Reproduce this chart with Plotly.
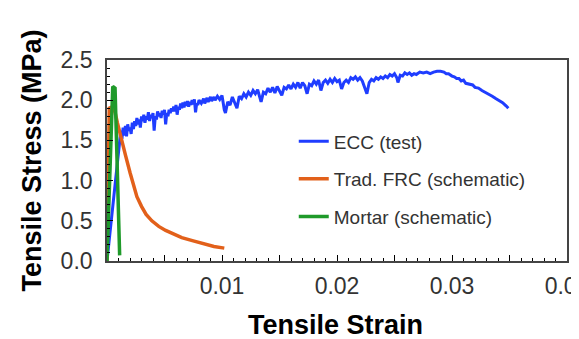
import plotly.graph_objects as go

# ECC (test) - tensile strain / stress
ecc_strain = [0, 0.0003, 0.0006, 0.0009,
              0.0012, 0.0013, 0.0014, 0.0015, 0.0016, 0.0017, 0.0018, 0.0019, 0.0020, 0.0021,
              0.0022, 0.0023, 0.0024, 0.0025, 0.0026, 0.0027, 0.0028, 0.0029, 0.0030, 0.0031,
              0.0032, 0.0033, 0.0034, 0.0035, 0.0036, 0.0037, 0.0038, 0.0039, 0.0040, 0.0041,
              0.0042, 0.0043, 0.0044, 0.0045, 0.0046, 0.0047, 0.0048, 0.0049, 0.0050, 0.0051,
              0.0052, 0.0053, 0.0054, 0.0055, 0.0056, 0.0057, 0.0058, 0.0059, 0.0060, 0.0061,
              0.0062, 0.0063, 0.0064, 0.0065, 0.0066, 0.0067, 0.0068, 0.0069, 0.0070, 0.0071,
              0.0072, 0.0073, 0.0074, 0.0075, 0.0076, 0.0077, 0.0078, 0.0079, 0.0080, 0.0082,
              0.0084, 0.0085, 0.0087, 0.0088, 0.0090, 0.0091, 0.0093, 0.0094, 0.0096, 0.0098,
              0.0100, 0.0102, 0.0103, 0.0105, 0.0107, 0.0109, 0.0111, 0.0113, 0.0115, 0.0117,
              0.0119, 0.0121, 0.0123, 0.0125, 0.0127, 0.0129, 0.0131, 0.0133, 0.0134, 0.0136,
              0.0138, 0.0140, 0.0142, 0.0144, 0.0146, 0.0148, 0.0150, 0.0152, 0.0154, 0.0156,
              0.0158, 0.0160, 0.0162, 0.0164, 0.0166, 0.0168, 0.0170, 0.0172, 0.0174, 0.0176,
              0.0178, 0.0180, 0.0182, 0.0184, 0.0186, 0.0188, 0.0190, 0.0192, 0.0194, 0.0196,
              0.0198, 0.0200, 0.0202, 0.0204, 0.0206, 0.0208, 0.0210, 0.0212, 0.0214, 0.0216,
              0.0218, 0.0220, 0.0222, 0.0224, 0.0226, 0.0228, 0.0230, 0.0232, 0.0234, 0.0236,
              0.0238, 0.0240, 0.0242, 0.0244, 0.0246, 0.0248, 0.0250, 0.0252, 0.0253, 0.0255,
              0.0257, 0.0259, 0.0261, 0.0263, 0.0265, 0.0267, 0.0269, 0.0272, 0.0275, 0.0278,
              0.0281, 0.0284, 0.0287, 0.0290, 0.0293, 0.0295, 0.0297, 0.0300, 0.0302, 0.0304,
              0.0306, 0.0308, 0.0310, 0.0312, 0.0315, 0.0318, 0.0320, 0.0323, 0.0326, 0.0329,
              0.0332, 0.0335, 0.0338, 0.0341, 0.0344, 0.0347, 0.0349]
ecc_stress = [0, 0.42, 0.84, 1.24,
              1.62, 1.52, 1.66, 1.56, 1.68, 1.55, 1.70, 1.62, 1.66, 1.58,
              1.72, 1.64, 1.74, 1.68, 1.78, 1.70, 1.76, 1.66, 1.80, 1.74,
              1.82, 1.72, 1.80, 1.76, 1.85, 1.74, 1.82, 1.78, 1.84, 1.62,
              1.80, 1.76, 1.86, 1.80, 1.84, 1.78, 1.87, 1.82, 1.88, 1.70,
              1.84, 1.80, 1.88, 1.84, 1.90, 1.86, 1.92, 1.86, 1.94, 1.82,
              1.92, 1.88, 1.96, 1.90, 1.97, 1.91, 1.98, 1.93, 1.99, 1.92,
              1.98, 1.94, 2.00, 1.95, 2.01, 1.85, 1.96, 1.94, 2.00, 1.96,
              2.02, 1.96, 2.03, 1.98, 2.04, 1.99, 2.04, 2.00, 2.05, 2.01,
              2.06, 1.88, 1.84, 1.98, 1.94, 2.04, 1.98, 1.90, 2.05, 2.02,
              2.08, 2.04, 2.10, 2.06, 2.12, 2.08, 2.13, 2.04, 1.98, 2.10,
              2.08, 2.15, 2.10, 2.16, 2.09, 2.17, 2.12, 2.06, 2.16, 2.14,
              2.19, 2.14, 2.20, 2.16, 2.22, 2.15, 2.22, 2.18, 2.08, 2.20,
              2.18, 2.24, 2.20, 2.25, 2.12, 2.22, 2.25, 2.21, 2.26, 2.22,
              2.27, 2.23, 2.25, 2.14, 2.22, 2.25, 2.22, 2.28, 2.26, 2.29,
              2.25, 2.28, 2.24, 2.16, 2.08, 2.22, 2.26, 2.24, 2.28, 2.26,
              2.29, 2.27, 2.30, 2.28, 2.32, 2.30, 2.33, 2.28, 2.22, 2.31,
              2.30, 2.34, 2.32, 2.34, 2.31, 2.33, 2.32, 2.35, 2.34, 2.35,
              2.33, 2.35, 2.36, 2.36, 2.35, 2.33, 2.33, 2.30, 2.29, 2.27,
              2.27, 2.24, 2.25, 2.21, 2.20, 2.19, 2.16, 2.15, 2.12, 2.10,
              2.07, 2.05, 2.02, 2.00, 1.97, 1.93, 1.90]

# Traditional FRC (schematic)
frc_strain = [0, 0.0002, 0.0005, 0.0007, 0.0009, 0.0011, 0.0013, 0.0016, 0.0020, 0.0023,
              0.0026, 0.0030, 0.0034, 0.0039, 0.0045, 0.0051, 0.0057, 0.0065, 0.0075, 0.0084,
              0.0093, 0.0102]
frc_stress = [0, 1.90, 1.92, 1.85, 1.72, 1.60, 1.47, 1.32, 1.10, 0.94,
              0.80, 0.68, 0.58, 0.50, 0.43, 0.38, 0.34, 0.29, 0.25, 0.21,
              0.18, 0.16]

# Mortar (schematic)
mortar_strain = [0, 0.0005, 0.0007, 0.0011]
mortar_stress = [0, 2.17, 2.15, 0.07]

x_tickvals = [0, 0.005, 0.01, 0.015, 0.02, 0.025, 0.03, 0.035, 0.04]
x_ticktext = ["", "", "0.01", "", "0.02", "", "0.03", "", "0.04"]

FONT = "Liberation Sans, Arial, sans-serif"

fig = go.Figure()
fig.add_trace(go.Scatter(x=ecc_strain, y=ecc_stress, mode="lines", name="ECC (test)",
                         legendgroup="a", line=dict(color="#1f3dff", width=3)))
fig.add_trace(go.Scatter(x=frc_strain, y=frc_stress, mode="lines", name="Trad. FRC (schematic)",
                         legendgroup="b", line=dict(color="#e2601a", width=3.5)))
fig.add_trace(go.Scatter(x=mortar_strain, y=mortar_stress, mode="lines", name="Mortar (schematic)",
                         legendgroup="c", line=dict(color="#1f9a2a", width=3.5)))

axis_font = dict(family=FONT, size=23, color="#333333")
title_font = dict(family=FONT, size=27, color="#000000")

fig.update_layout(
    xaxis=dict(range=[0, 0.04], tickmode="array", tickvals=x_tickvals, ticktext=x_ticktext,
               ticks="inside", ticklen=6, tickcolor="#000", tickwidth=1,
               minor=dict(ticks="inside", ticklen=3, dtick=0.001, tick0=0, tickcolor="#000"),
               showline=True, mirror=True, linecolor="#444444", linewidth=1.6,
               showgrid=False, zeroline=False,
               tickfont=axis_font, automargin=False, ticklabeloverflow="allow",
               ticklabelstandoff=4),
    yaxis=dict(range=[0, 2.5], dtick=0.5, tick0=0, tickformat=".1f",
               ticks="inside", ticklen=6, tickcolor="#000", tickwidth=1,
               minor=dict(ticks="inside", ticklen=3, dtick=0.1, tick0=0, tickcolor="#000"),
               showline=True, mirror=True, linecolor="#444444", linewidth=1.6,
               showgrid=False, zeroline=False,
               tickfont=axis_font, automargin=False, ticklabelstandoff=8),
)

fig.add_annotation(text="<b>Tensile Stress (MPa)</b>", xref="paper", yref="paper",
                   x=-0.165, y=0.5, xanchor="center", yanchor="middle", textangle=-90,
                   showarrow=False, font=title_font)
fig.add_annotation(text="<b>Tensile Strain</b>", xref="paper", yref="paper",
                   x=0.496, y=-0.32, xanchor="center", yanchor="middle",
                   showarrow=False, font=title_font)

# page body has an 8px margin, so the figure is sized and offset to compensate
fig.update_layout(
    width=571, height=331,
    margin=dict(l=99, r=12, t=52, b=78),
    plot_bgcolor="white", paper_bgcolor="white",
    showlegend=True,
    legend=dict(x=0.406, y=0.69, xanchor="left", yanchor="top",
                font=dict(family=FONT, size=19, color="#333333"),
                bgcolor="rgba(0,0,0,0)", tracegroupgap=10, itemwidth=30),
)

fig.write_html("out.html")
